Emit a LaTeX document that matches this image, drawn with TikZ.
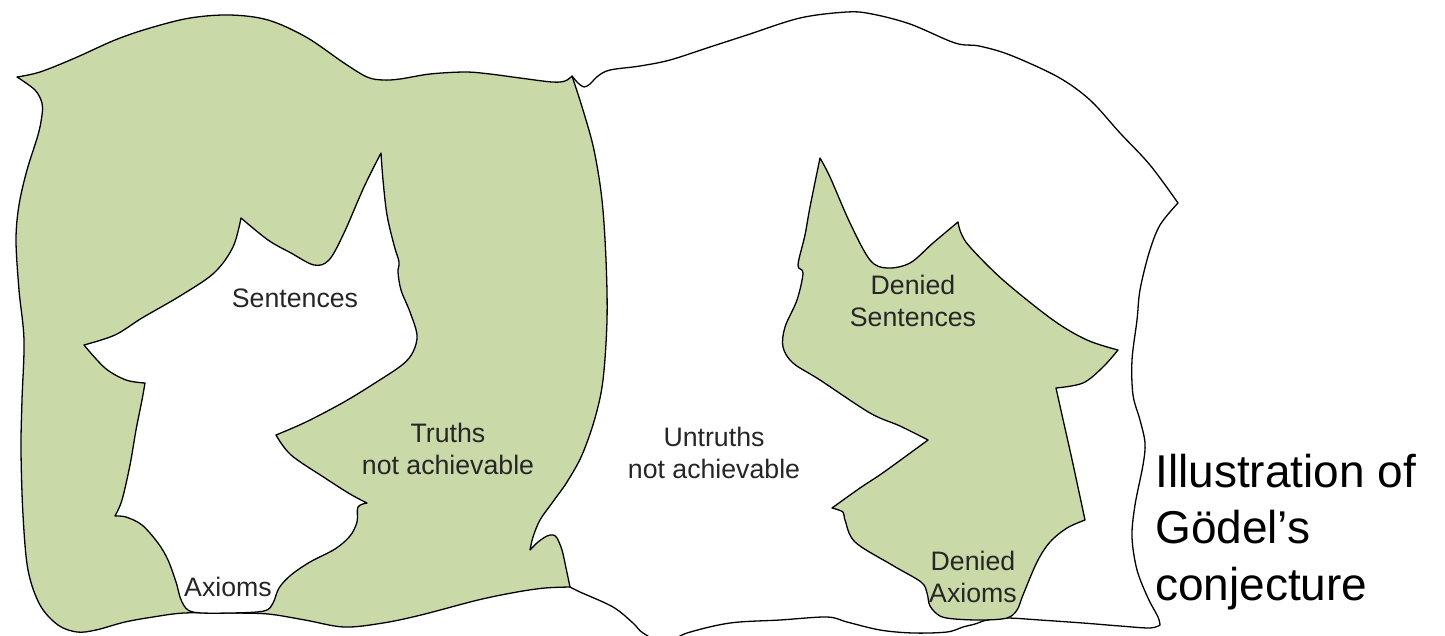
\documentclass[tikz,border=0pt]{standalone}
\usepackage{fontspec}
\setmainfont{Liberation Sans}
\definecolor{leaf}{RGB}{201,217,168}
\begin{document}
\begin{tikzpicture}[x=1pt,y=-1pt,
  region/.style={draw=black, line width=1.3pt, line join=round},
  lbl/.style={font=\fontsize{26.7}{32}\selectfont, text=black!85, align=center, inner sep=0pt},
  sm/.style={smooth, tension=0.55}]
\useasboundingbox (0,0) rectangle (1445,635);
\clip (0,0) rectangle (1445,635);
% left green region (truths)
\path[region, fill=leaf] (572,76)
  -- plot[sm] coordinates {(572,76) (565,81) (552,82) (520,78) (490,74) (465,72) (430,74) (400,79) (383,80) (367,77) (344,63) (306,37) (268,20) (230,15) (190,18) (150,28) (115,40) (75,58) (40,72) (17,77)}
  -- plot[sm] coordinates {(17,77) (35,90) (42,103) (42,115) (38,135) (27,170) (19,205) (16,240) (19,290) (24,340) (22,400) (21,450) (23,515) (28,570) (40,605) (58,625) (77,632) (96,630) (125,622) (153,617) (184,613) (230,613) (268,614) (305,620) (344,627) (383,623) (421,615) (478,600) (517,592) (545,588) (570,587)}
  -- plot[sm] coordinates {(570,587) (566,568) (562,550) (557,538) (553,535) (547,536) (538,542) (530,550)}
  -- plot[sm] coordinates {(530,550) (533,537) (540,520) (552,503) (567,482) (582,455) (595,418) (603,380) (607,320) (606,260) (602,200) (594,150) (583,110) (572,76)}
  -- cycle;
% right white region outline (untruths)
\path[region] (572,76)
  -- plot[sm] coordinates {(572,76) (578,83) (584,87) (590,84) (598,76) (610,70) (640,66) (670,60) (710,47) (747,35) (800,18) (847,12) (872,14) (910,24) (955,43) (979,46) (1010,55) (1058,77) (1090,100) (1120,133) (1150,165) (1178,203)}
  -- plot[sm] coordinates {(1178,203) (1160,225) (1149,253) (1140,290) (1137,320) (1132,360) (1133,395) (1140,420) (1145,443) (1143,465) (1135,505) (1132,537) (1137,570) (1148,598) (1158,617) (1160,625)}
  -- plot[sm] coordinates {(1160,625) (1150,628) (1120,626) (1083,623) (1040,620) (1007,618) (987,620) (975,624) (963,627) (947,632) (913,633) (880,630) (847,622) (827,617) (780,620) (730,623) (687,633) (665,643) (643,633) (633,623) (613,607) (580,592) (570,587)};
% white hole (sentences / axioms)
\path[region, fill=white] (381,153)
  -- plot[sm] coordinates {(381,153) (383,180) (387,215) (394,245) (399,262) (398,272) (401,290) (410,312) (417,335) (413,352) (402,365) (375,383) (344,402) (306,422) (276,435)}
  -- plot[sm] coordinates {(276,435) (291,455) (325,478) (350,494) (367,503)}
  -- plot[sm] coordinates {(367,503) (358,507) (357,522) (350,536) (335,549) (310,562) (291,575) (279,588) (273,603) (264,611) (230,613) (193,612) (182,602) (176,582) (168,560) (158,543) (142,525) (126,517) (115,516)}
  -- plot[sm] coordinates {(115,516) (122,500) (130,465) (136,430) (142,400) (145,383)}
  -- plot[sm] coordinates {(145,383) (126,380) (105,368) (84,345)}
  -- plot[sm] coordinates {(84,345) (115,335) (142,318) (180,296) (214,273) (233,247) (241,218)}
  -- plot[sm] coordinates {(241,218) (268,240) (291,253) (314,265) (329,260) (344,233) (364,187) (381,153)}
  -- cycle;
% green denied region
\path[region, fill=leaf] (820,158)
  -- plot[sm] coordinates {(820,158) (830,177) (850,223) (870,260) (887,268) (910,263) (933,243) (958,222)}
  -- plot[sm] coordinates {(958,222) (961,233) (970,247) (1003,280) (1053,320) (1087,340) (1118,350)}
  -- plot[sm] coordinates {(1118,350) (1103,367) (1083,383) (1056,388)}
  -- plot[sm] coordinates {(1056,388) (1062,415) (1071,455) (1079,492) (1085,520)}
  -- plot[sm] coordinates {(1085,520) (1067,528) (1050,542) (1037,562) (1023,595) (1017,610) (1007,618) (983,620) (955,619) (940,616) (930,606) (927,593) (921,582) (892,565) (855,542) (845,520) (843,512) (832,508)}
  -- plot[sm] coordinates {(832,508) (860,488) (884,472) (928,440)}
  -- plot[sm] coordinates {(928,440) (900,426) (870,413) (820,380) (793,363) (783,347) (785,327) (797,300) (803,273) (798,265) (805,235) (810,207) (820,158)}
  -- cycle;
% labels
\node[lbl] (sent) at (295,298) {Sentences};
\node[lbl] (truths) at (448,449) {Truths\\not achievable};
\node[lbl] (axioms) at (228,587) {Axioms};
\node[lbl] (untruths) at (714,453) {Untruths\\not achievable};
\node[lbl] (dsent) at (913,301) {Denied\\Sentences};
\node[lbl] (daxioms) at (973,577) {Denied\\Axioms};
\node[anchor=base west, inner sep=0pt, font=\fontsize{46}{56.5}\selectfont] (title) at (1155,487)
  {\begin{tabular}[t]{@{}l@{}}Illustration of\\Gödel’s\\conjecture\end{tabular}};
\end{tikzpicture}
\end{document}
